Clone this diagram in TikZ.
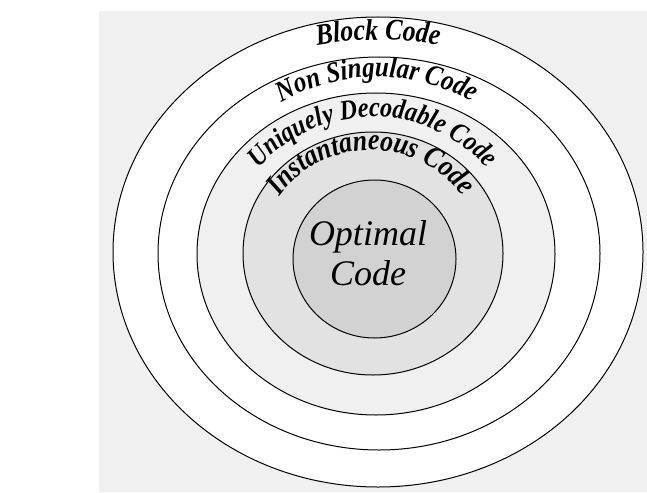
\documentclass[tikz,border=0pt]{standalone}
\usepackage{fontspec}
\setmainfont{Liberation Serif}
\newfontfamily\labfam[FakeStretch=0.86]{Liberation Serif}
\usetikzlibrary{decorations.text}
\definecolor{bggray}{HTML}{F0F0F0}
\definecolor{ringC}{HTML}{F0F0F0}
\definecolor{ringD}{HTML}{E2E2E2}
\definecolor{coreE}{HTML}{D2D2D2}
\newcommand\labA{\labfam\fontsize{30}{30}\selectfont\bfseries\itshape}
\newcommand\labB{\labfam\fontsize{29}{29}\selectfont\bfseries\itshape}
\newcommand\labC{\labfam\fontsize{28}{28}\selectfont\bfseries\itshape}
\newcommand\labD{\labfam\fontsize{30}{30}\selectfont\bfseries\itshape}
\begin{document}
\begin{tikzpicture}[x=1pt,y=1pt,
  ring/.style={draw=black, line width=1pt},
  lab/.style={decorate, decoration={text along path, text align=center, text={#1}}}]
\useasboundingbox (0,-492) rectangle (647,0);
\fill[white] (0,-492) rectangle (647,0);
\fill[bggray] (99,-492) rectangle (647,-11);
% rings
\draw[ring, fill=white] (378,-252) ellipse [x radius=265, y radius=235];
\draw[ring, fill=white] (379,-253.5) ellipse [x radius=221, y radius=196.5];
\draw[ring, fill=ringC] (376,-254) ellipse [x radius=179, y radius=161];
\draw[ring, fill=ringD] (373,-253.5) ellipse [x radius=130, y radius=121.5];
\draw[ring, fill=coreE] (374.5,-259) ellipse [x radius=81.5, y radius=79];
% curved labels
\path[lab={|\labA|Block Code}] ([shift={(115:334)}]378,-374) arc[start angle=115, end angle=65, radius=334];
\path[lab={|\labB|Non Singular Code}] ([shift={(150:193)}]377,-270) arc[start angle=150, end angle=30, radius=193];
\path[lab={|\labC|Uniquely Decodable Code}] ([shift={(160:153)}]373,-270) arc[start angle=160, end angle=20, radius=153];
\path[lab={|\labD|Instantaneous Code}] ([shift={(170:114)}]371,-264) arc[start angle=170, end angle=10, radius=114];
% core label
\node[align=center, inner sep=0pt, font=\fontsize{36}{40}\selectfont\itshape] (opt) at (368,-252.7) {Optimal\\Code};
\end{tikzpicture}
\end{document}
